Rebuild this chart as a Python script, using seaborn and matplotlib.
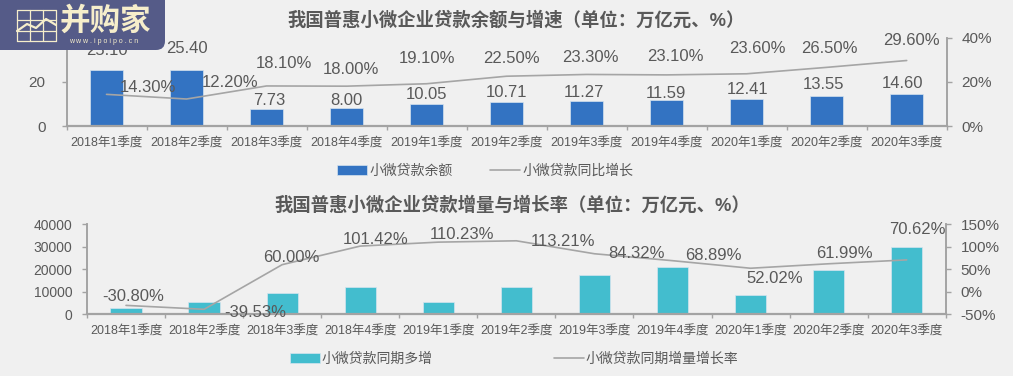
import pandas as pd
from matplotlib import pyplot as plt
from matplotlib.patches import FancyBboxPatch
import seaborn as sns

# data
quarters = ["2018年1季度", "2018年2季度", "2018年3季度", "2018年4季度", "2019年1季度", "2019年2季度",
            "2019年3季度", "2019年4季度", "2020年1季度", "2020年2季度", "2020年3季度"]
balance = [25.10, 25.40, 7.73, 8.00, 10.05, 10.71, 11.27, 11.59, 12.41, 13.55, 14.60]
balance_growth = [14.30, 12.20, 18.10, 18.00, 19.10, 22.50, 23.30, 23.10, 23.60, 26.50, 29.60]
increase = [2800, 5500, 9500, 12200, 5500, 12000, 17600, 20800, 8300, 19600, 30100]
increase_growth = [-30.80, -39.53, 60.00, 101.42, 110.23, 113.21, 84.32, 68.89, 52.02, 61.99, 70.62]

title_top = "我国普惠小微企业贷款余额与增速（单位：万亿元、%）"
title_bottom = "我国普惠小微企业贷款增量与增长率（单位：万亿元、%）"

sns.set_style("white")
plt.rcParams['font.family'] = ['Liberation Sans', 'Noto Sans CJK SC', 'DejaVu Sans']

W, H = 1013, 376
BG = "#f0f0f0"
TEXT = "#595959"
AXIS = "#a3a3a3"
LINE = "#a5a5a5"

# label offsets in pixels from the point they belong to
off_balance = [(0, 20), (0, 21), (3, 8), (0, 8), (0, 9), (0, 10), (-3, 9), (-1, 7), (1, 9), (-3, 12), (-4, 10)]
off_growth = [(41, 7), (44, 17), (17, 22), (4, 17), (0, 25), (5, 18), (4, 17), (9, 18), (11, 25), (3, 19), (5, 20)]
off_incr = [(7, 9), (51, -3), (9, 7), (15, 7), (24, 8), (47, -1), (42, 0), (41, 5), (24, -10), (16, 10), (11, 30)]


def box(x0, x1, y_top, y_bottom):
    return [x0 / W, 1 - y_bottom / H, (x1 - x0) / W, (y_bottom - y_top) / H]


def draw_panel(rect, bars, line, bar_color, bar_name, line_name, ylim, ylim2, yticks, yticks2, width, left_pad, left_size):
    ax = fig.add_axes(rect, facecolor=BG)
    df = pd.DataFrame({"q": quarters, "bar": bars, "line": line})
    sns.barplot(data=df, x="q", y="bar", color=bar_color, saturation=1, width=width, ax=ax,
                edgecolor="#d5e3ee", linewidth=0.5, label=bar_name)
    ax2 = ax.twinx()
    sns.lineplot(data=df, x="q", y="line", color=LINE, linewidth=1.2, ax=ax2, label=line_name)
    ax.set_xlim(-0.5, len(quarters) - 0.5)
    ax.set_ylim(*ylim)
    ax2.set_ylim(*ylim2)
    ax.set_yticks(yticks)
    ax2.set_yticks(yticks2)
    ax2.set_yticklabels([str(t) + "%" for t in yticks2])
    ax.set_xticks(range(len(quarters)))
    ax.set_xticklabels(quarters)
    ax.set_xticks([i - 0.5 for i in range(len(quarters) + 1)], minor=True)
    ax.tick_params(axis="x", which="major", length=0, pad=8, labelsize=9, labelcolor=TEXT)
    ax.tick_params(axis="x", which="minor", length=3, width=1, color=AXIS, bottom=True)
    ax.tick_params(axis="y", left=True, length=3.6, width=1, color=AXIS, labelsize=left_size, labelcolor=TEXT, pad=left_pad)
    ax2.tick_params(axis="y", right=True, length=3.6, width=1, color=AXIS, labelsize=11, labelcolor=TEXT, pad=7)
    ax.set_xlabel("")
    ax.set_ylabel("")
    ax2.set_xlabel("")
    ax2.set_ylabel("")
    for a in (ax, ax2):
        a.spines["top"].set_visible(False)
        for s in ("left", "right", "bottom"):
            a.spines[s].set_color(AXIS)
            a.spines[s].set_linewidth(1.2)
    ax2.spines["bottom"].set_linewidth(1.6)
    if ax.get_legend():
        ax.get_legend().remove()
    ax2.get_legend().remove()
    return ax, ax2


def put_labels(ax, values, texts, offsets):
    for i, v in enumerate(values):
        ax.annotate(texts[i], (i, v), xytext=offsets[i], textcoords="offset pixels",
                    ha="center", va="center", fontsize=12, color=TEXT)


def put_legend(ax, ax2, center_x, y, spacing):
    h1, l1 = ax.get_legend_handles_labels()
    h2, l2 = ax2.get_legend_handles_labels()
    fig.legend(h1 + h2, l1 + l2, ncol=2, loc="center", bbox_to_anchor=(center_x / W, 1 - y / H),
               frameon=False, fontsize=10, labelcolor=TEXT, handlelength=2.17, handletextpad=0.15,
               columnspacing=spacing, borderpad=0)


fig = plt.figure(figsize=(W / 100, H / 100), dpi=100, facecolor=BG)

# top panel
ax1, ax1b = draw_panel(box(66.5, 946.7, 37.5, 126), balance, balance_growth, "#3373c2",
                       "小微贷款余额", "小微贷款同比增长", (0, 40), (0, 40), [0, 20, 40], [0, 20, 40], 0.41, 11.5, 11)
put_labels(ax1b, balance, ["%.2f" % v for v in balance], off_balance)
put_labels(ax1b, balance_growth, ["%.2f%%" % v for v in balance_growth], off_growth)
put_legend(ax1, ax1b, 485, 171, 2.7)
fig.text(516 / W, 1 - 20 / H, title_top, ha="center", va="center", fontsize=13.2, fontweight="bold", color=TEXT)

# bottom panel
ax3, ax3b = draw_panel(box(87, 945.7, 224.3, 314), increase, increase_growth, "#43bdce",
                       "小微贷款同期多增", "小微贷款同期增量增长率", (0, 40000), (-50, 150),
                       [0, 10000, 20000, 30000, 40000], [-50, 0, 50, 100, 150], 0.4, 7, 10)
put_labels(ax3b, increase_growth, ["%.2f%%" % v for v in increase_growth], off_incr)
put_legend(ax3, ax3b, 514, 359, 8.7)
fig.text(512 / W, 1 - 205 / H, title_bottom, ha="center", va="center", fontsize=13.2, fontweight="bold", color=TEXT)

# logo on top of everything, in pixel coordinates
logo = fig.add_axes([0, 0, 1, 1], zorder=10)
logo.set_xlim(0, W)
logo.set_ylim(H, 0)
logo.axis("off")
CREAM = "#f6eecb"
logo.add_patch(FancyBboxPatch((-12, -12), 177, 62, boxstyle="round,pad=0,rounding_size=9",
                              facecolor="#555b88", edgecolor="none"))
for x in (17, 30, 43, 56):
    logo.plot([x, x], [10, 41], color=CREAM, lw=0.9)
for y in (10, 20, 31, 41):
    logo.plot([17, 56], [y, y], color=CREAM, lw=0.9)
logo.plot([17, 27, 36, 46, 56], [31, 24, 28, 19, 25], color=CREAM, lw=1.6)
logo.text(105, 22, "并购家", ha="center", va="center", fontsize=22, fontweight="bold", color=CREAM)
logo.text(104, 41.5, "w w w . i p o i p o . c n", ha="center", va="center", fontsize=5, color=CREAM)

fig.savefig("out.png", dpi=100, facecolor=BG)
